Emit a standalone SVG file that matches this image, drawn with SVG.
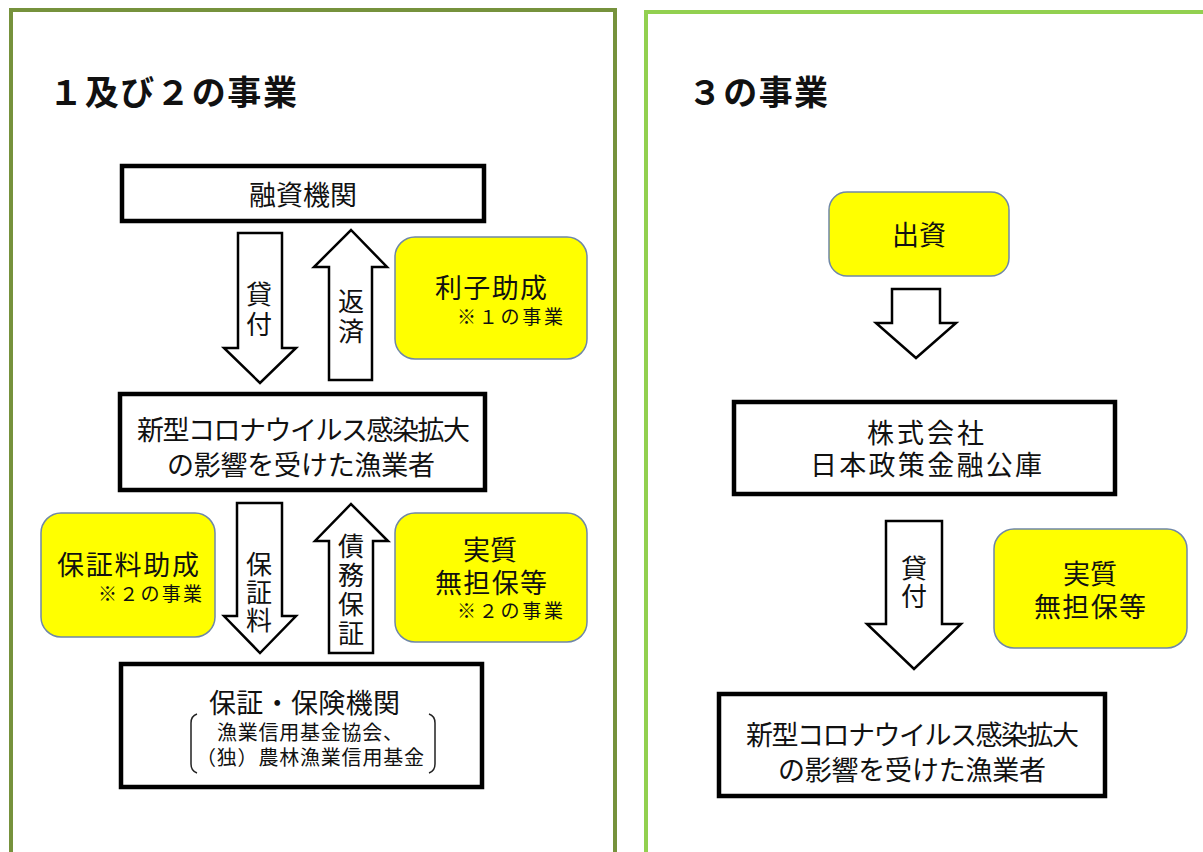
<svg xmlns="http://www.w3.org/2000/svg" width="1203" height="852" viewBox="0 0 1203 852">
<style>
text{font-family:"Liberation Sans","Noto Sans CJK JP","Noto Sans CJK SC",sans-serif;fill:#111;}
.t{font-size:34px;font-weight:bold;}
.m{font-size:27px;}
.v{font-family:"Noto Sans CJK JP","Noto Sans CJK SC",sans-serif;font-size:26px;writing-mode:vertical-rl;text-orientation:upright;}
.s{font-size:19px;}
.c{text-anchor:middle;}
.box{fill:#fff;stroke:#000;stroke-width:4.5;}
.yel{fill:#ffff00;stroke:#6f87a8;stroke-width:1.5;}
.arr{fill:#fff;stroke:#000;stroke-width:2.5;stroke-linejoin:miter;}
</style>
<rect width="1203" height="852" fill="#fff"/>
<g id="panel-left">
<rect x="11" y="10" width="604" height="860" fill="none" stroke="#76923c" stroke-width="4"/>
<text class="t" x="49" y="105" textLength="248" lengthAdjust="spacing">１及び２の事業</text>
</g>
<g id="panel-right">
<rect x="646" y="12" width="600" height="860" fill="none" stroke="#92d050" stroke-width="4"/>
<text class="t" x="688" y="105" textLength="140" lengthAdjust="spacing">３の事業</text>
</g>
<g id="connectors">
<path class="arr" d="M238,233 H282 V348 H296 L260,383 L224,348 H238 Z"/>
<path class="arr" d="M329,380 V267 H314 L351,230 L387,267 H372 V380 Z"/>
<path class="arr" d="M237,503 H282 V616 H296 L260,653 L224,616 H237 Z"/>
<path class="arr" d="M329,653 V541 H315 L351,504 L388,541 H373 V653 Z"/>
<path class="arr" d="M892,289 H940 V323 H956 L916,358 L876,323 H892 Z"/>
<path class="arr" d="M886,521 H942 V624 H961 L914,669 L867,624 H886 Z"/>
<text class="v" x="259" y="281" style="letter-spacing:4px">貸付</text>
<text class="v" x="351" y="288" style="letter-spacing:4px">返済</text>
<text class="v" x="259" y="551" style="letter-spacing:2px">保証料</text>
<text class="v" x="351" y="533" style="letter-spacing:3px">債務保証</text>
<text class="v" x="914" y="555" style="letter-spacing:2px">貸付</text>
</g>
<g id="node-yushi">
<rect class="box" x="122" y="166" width="362" height="55"/>
<text class="m c" x="303" y="205">融資機関</text>
</g>
<g id="node-rishi">
<rect class="yel" x="395" y="237" width="192" height="122" rx="20"/>
<text><tspan class="m" x="435" y="298" textLength="112" lengthAdjust="spacing">利子助成</tspan><tspan class="s" x="457" y="324" textLength="106" lengthAdjust="spacing">※１の事業</tspan></text>
</g>
<g id="node-gyogyosha-left">
<rect class="box" x="120" y="394" width="365" height="96"/>
<text class="m"><tspan x="137" y="440" textLength="333" lengthAdjust="spacing">新型コロナウイルス感染拡大</tspan><tspan x="167" y="475" textLength="268" lengthAdjust="spacing">の影響を受けた漁業者</tspan></text>
</g>
<g id="node-hoshoryo">
<rect class="yel" x="41" y="513" width="174" height="124" rx="20"/>
<text><tspan class="m" x="57" y="575" textLength="142" lengthAdjust="spacing">保証料助成</tspan><tspan class="s" x="98" y="601" textLength="104" lengthAdjust="spacing">※２の事業</tspan></text>
</g>
<g id="node-jisshitsu-left">
<rect class="yel" x="395" y="513" width="192" height="129" rx="20"/>
<text><tspan class="m" x="463" y="560">実質</tspan><tspan class="m" x="435" y="593" textLength="112" lengthAdjust="spacing">無担保等</tspan><tspan class="s" x="457" y="618" textLength="106" lengthAdjust="spacing">※２の事業</tspan></text>
</g>
<g id="node-hosho">
<rect class="box" x="121" y="664" width="361" height="123"/>
<path d="M197,714 Q191,716 191,723 V764 Q191,771 197,773" fill="none" stroke="#222" stroke-width="1.5"/>
<path d="M429,714 Q435,716 435,723 V764 Q435,771 429,773" fill="none" stroke="#222" stroke-width="1.5"/>
<text><tspan class="m" x="209" y="713" textLength="191" lengthAdjust="spacing">保証・保険機関</tspan><tspan style="font-size:20px" x="217" y="740" textLength="186" lengthAdjust="spacing">漁業信用基金協会、</tspan><tspan style="font-size:20px" x="196" y="765" textLength="228" lengthAdjust="spacing">（独）農林漁業信用基金</tspan></text>
</g>
<g id="node-shusshi">
<rect class="yel" x="829" y="192" width="180" height="84" rx="18"/>
<text class="m c" x="919" y="245">出資</text>
</g>
<g id="node-koko">
<rect class="box" x="734" y="402" width="381" height="92"/>
<text class="m"><tspan x="867" y="443" textLength="117" lengthAdjust="spacing">株式会社</tspan><tspan x="810" y="475" textLength="232" lengthAdjust="spacing">日本政策金融公庫</tspan></text>
</g>
<g id="node-jisshitsu-right">
<rect class="yel" x="994" y="529" width="193" height="119" rx="20"/>
<text class="m"><tspan x="1063" y="584">実質</tspan><tspan x="1034" y="617" textLength="112" lengthAdjust="spacing">無担保等</tspan></text>
</g>
<g id="node-gyogyosha-right">
<rect class="box" x="719" y="694" width="386" height="102"/>
<text class="m"><tspan x="746" y="745" textLength="333" lengthAdjust="spacing">新型コロナウイルス感染拡大</tspan><tspan x="778" y="780" textLength="268" lengthAdjust="spacing">の影響を受けた漁業者</tspan></text>
</g>
</svg>
